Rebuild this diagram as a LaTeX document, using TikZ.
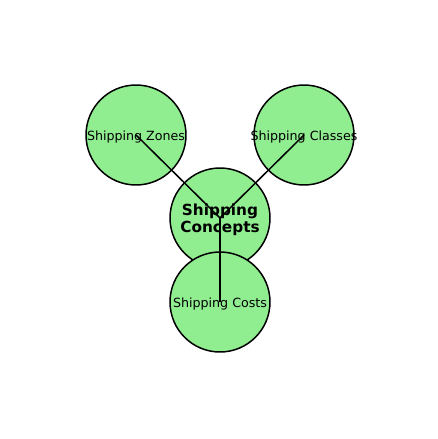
\documentclass[tikz,border=0pt]{standalone}
\usepackage{fontspec}
\setmainfont{DejaVu Sans}
\usepackage{xcolor}
\usetikzlibrary{positioning}
\definecolor{leafgreen}{RGB}{144,238,144}

\begin{document}
\begin{tikzpicture}[x=0.02cm,y=-0.02cm,
    bubble/.style={circle,draw,fill=leafgreen,line width=0.85pt,minimum size=2cm,inner sep=0pt},
    topic/.style={bubble,label={[font=\fontsize{7.2}{8}\selectfont,inner sep=0pt,yshift=-1.1pt]center:#1}},
    hub/.style={bubble,label={[font=\fontsize{8.7}{9.6}\selectfont\bfseries,align=center,inner sep=0pt,yshift=-1.1pt]center:#1}},
    link/.style={line width=0.85pt}]
  \useasboundingbox (0,0) rectangle (438,439);
  \node[hub={Shipping\\Concepts}] (concepts) at (220,218) {};
  \node[topic={Shipping Zones}] (zones) at (136,135) {};
  \node[topic={Shipping Classes}] (classes) at (304,135) {};
  \node[topic={Shipping Costs}] (costs) at (220,302) {};
  \draw[link] (concepts.center) -- (zones.center);
  \draw[link] (concepts.center) -- (classes.center);
  \draw[link] (concepts.center) -- (costs.center);
\end{tikzpicture}
\end{document}
